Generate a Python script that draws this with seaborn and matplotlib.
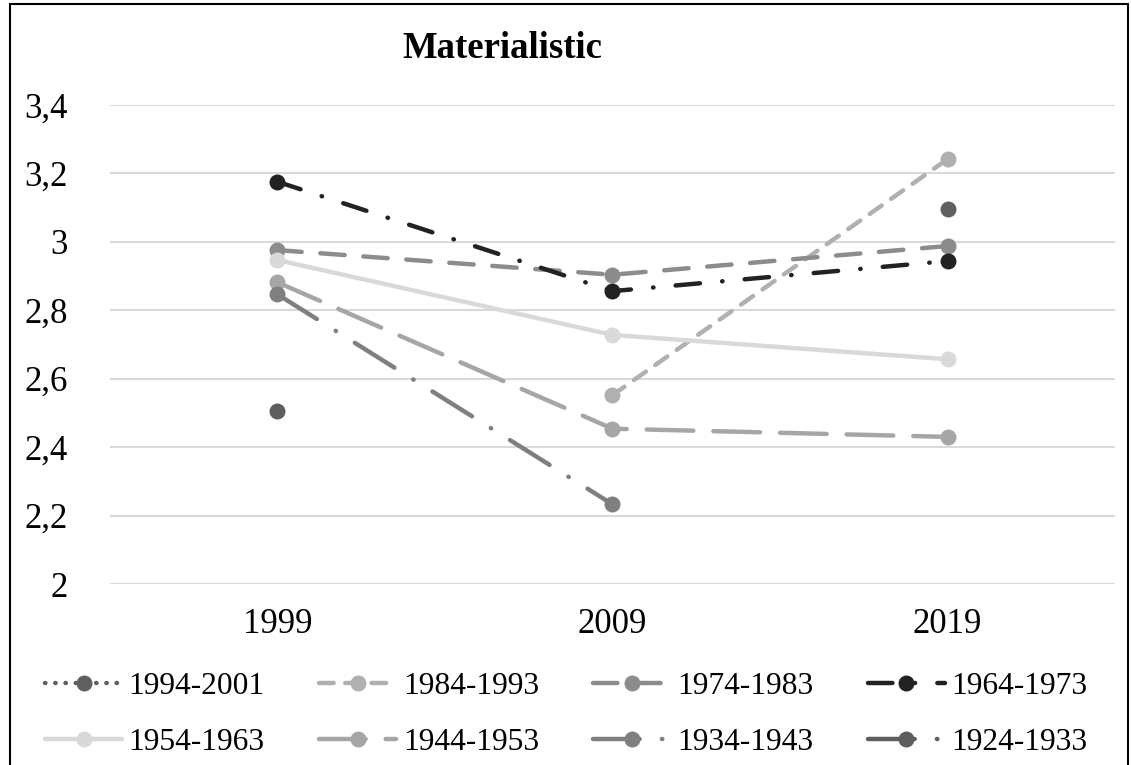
import numpy as np
import pandas as pd
import seaborn as sns
import matplotlib.pyplot as plt
from matplotlib.ticker import FuncFormatter
from matplotlib.patches import Rectangle

years = ["1999", "2009", "2019"]
cohorts = ["1994-2001", "1984-1993", "1974-1983", "1964-1973",
           "1954-1963", "1944-1953", "1934-1943", "1924-1933"]
v_1994 = [np.nan, np.nan, 3.096]
v_1984 = [np.nan, 2.552, 3.242]
v_1974 = [2.976, 2.904, 2.988]
v_1964 = [3.176, 2.856, 2.944]
v_1954 = [2.947, 2.728, 2.657]
v_1944 = [2.882, 2.454, 2.430]
v_1934 = [2.847, 2.233, np.nan]
v_1924 = [2.505, np.nan, np.nan]
values = [v_1994, v_1984, v_1974, v_1964, v_1954, v_1944, v_1934, v_1924]

colors = ["#606060", "#b0b0b0", "#8c8c8c", "#222222",
          "#d9d9d9", "#a6a6a6", "#7f7f7f", "#5e5e5e"]
styles = [(0, (0.1, 2.2)), (0, (3.3, 2.6)), (0, (5.5, 4.2)), (0, (5.5, 5, 0.1, 5)),
          "solid", (0, (10.5, 4.5)), (0, (10.5, 5, 0.1, 5)), (0, (10.5, 5, 0.1, 5))]

sns.set_style("white")
plt.rcParams['font.family'] = ['Liberation Serif', 'DejaVu Serif']
plt.rcParams['text.color'] = 'black'
plt.rcParams['xtick.color'] = 'black'
plt.rcParams['ytick.color'] = 'black'

fig = plt.figure(figsize=(11.31, 7.65), dpi=100)
ax = fig.add_axes([0.097, 0.2366, 0.889, 0.6261])

handles = []
for name, vals, c, ls in zip(cohorts, values, colors, styles):
    df = pd.DataFrame({"x": [0, 1, 2], "y": vals}).dropna()
    sns.lineplot(data=df, x="x", y="y", ax=ax, color=c, linewidth=3.2,
                 linestyle=ls, dash_capstyle="round", solid_capstyle="round",
                 marker="o", markersize=11.5, markeredgewidth=0, label=name,
                 legend=False)
    handles.append(ax.lines[-1])

ax.set_xlim(-0.5, 2.5)
ax.set_ylim(2, 3.4)
ax.set_yticks([2, 2.2, 2.4, 2.6, 2.8, 3.0, 3.2, 3.4])
ax.yaxis.set_major_formatter(FuncFormatter(lambda v, p: ("%g" % round(v, 1)).replace(".", ",")))
ax.set_xticks([0, 1, 2])
ax.set_xticklabels(years)
ax.set_xlabel("")
ax.set_ylabel("")
ax.grid(axis="y", color="#d9d9d9", linewidth=1.5)
ax.set_axisbelow(True)
for s in ax.spines.values():
    s.set_visible(False)
ax.tick_params(axis="y", length=0, pad=30, labelsize=25)
ax.tick_params(axis="x", length=0, pad=17, labelsize=25)

ax.set_title("Materialistic", fontsize=26.5, fontweight="bold", x=0.39, y=1.08)

order = [0, 4, 1, 5, 2, 6, 3, 7]
fig.legend([handles[i] for i in order], [cohorts[i] for i in order],
           ncol=4, frameon=False, loc="upper left", bbox_to_anchor=(45 / 1131, 1 - 672 / 765),
           bbox_transform=fig.transFigure, borderpad=0, borderaxespad=0,
           fontsize=22.7, handlelength=2.45, columnspacing=1.73, handletextpad=0.2,
           labelspacing=0.85)

fig.patches.append(Rectangle((0.009, -0.01), 0.988, 1.005, transform=fig.transFigure,
                             fill=False, edgecolor="black", linewidth=1.5))

fig.savefig("out.png", dpi=100)
